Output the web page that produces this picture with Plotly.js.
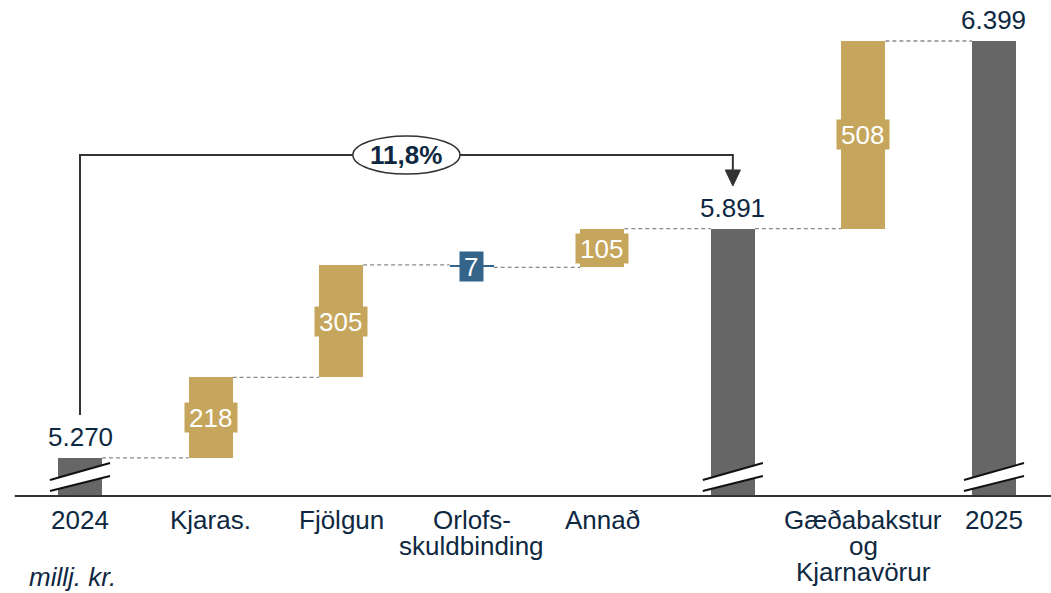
<!DOCTYPE html>
<html>
<head>
<meta charset="utf-8">
<script src="https://cdn.plot.ly/plotly-3.0.1.min.js"></script>
<style>html,body{margin:0;padding:0;background:#fff;}#chart{width:1051px;height:593px;}</style>
</head>
<body>
<div id="chart"></div>
<script>
// ---- data ----
const categories = ['2024', 'Kjaras.', 'Fjölgun', 'Orlofs-<br>skuldbinding', 'Annað', '', 'Gæðabakstur<br>og<br>Kjarnavörur', '2025'];
const measures = ['total', 'relative', 'relative', 'relative', 'relative', 'total', 'relative', 'total'];
const values = [5270, 218, 305, -7, 105, 5891, 508, 6399];
const changeLabel = '11,8%';
const unitLabel = 'millj. kr.';

// ---- style ----
const FONT = 'Liberation Sans, Arial, sans-serif';
const NAVY = '#0E2841';
const GRAY = '#666666';
const GOLD = '#C5A65C';
const BLUE = '#35648A';
const BAR_W = 0.337;
const Y_FLOOR = 5167, Y_TOP = 6510;

function fmt(v) { return String(v).replace(/\B(?=(\d{3})+(?!\d))/g, '.'); }

const xs = [], heights = [], bases = [], colors = [], ends = [];
let cum = 0;
values.forEach((v, i) => {
  xs.push(i);
  if (measures[i] === 'total') {
    bases.push(Y_FLOOR); heights.push(v - Y_FLOOR); colors.push(GRAY); cum = v;
  } else {
    bases.push(cum); heights.push(v); colors.push(v >= 0 ? GOLD : BLUE); cum += v;
  }
  ends.push(cum);
});

const trace = {
  type: 'bar', x: xs, y: heights, base: bases, width: BAR_W,
  marker: { color: colors, line: { width: 0 } },
  hoverinfo: 'none', showlegend: false
};

const shapes = [];
const annotations = [];

// connectors
for (let i = 0; i < values.length - 1; i++) {
  shapes.push({ type: 'line', xref: 'x', yref: 'y', x0: i + BAR_W / 2, x1: i + 1 - BAR_W / 2, y0: ends[i], y1: ends[i],
    line: { color: '#8A8A8A', width: 1.3, dash: '4px,3px' }, layer: 'below' });
}

// axis line
shapes.push({ type: 'line', xref: 'x', yref: 'paper', x0: -0.5, x1: 7.6, y0: 0, y1: 0, line: { color: '#333333', width: 2.2 } });

// break marks on total bars
measures.forEach((m, i) => {
  if (m !== 'total') return;
  const dx = 0.23;
  shapes.push({ type: 'path', xref: 'x', yref: 'paper',
    path: `M ${i - dx},0.0101 L ${i + dx},0.0403 L ${i + dx},0.0665 L ${i - dx},0.0323 Z`,
    fillcolor: '#ffffff', line: { width: 0 } });
  shapes.push({ type: 'line', xref: 'x', yref: 'paper', x0: i - dx, x1: i + dx, y0: 0.0101, y1: 0.0403, line: { color: '#111', width: 2 } });
  shapes.push({ type: 'line', xref: 'x', yref: 'paper', x0: i - dx, x1: i + dx, y0: 0.0323, y1: 0.0665, line: { color: '#111', width: 2 } });
});

// growth arrow from first total to subtotal
const iFrom = 0, iTo = 5;
shapes.push({ type: 'path', xref: 'x', yref: 'paper',
  path: `M ${iFrom},0.1633 L ${iFrom},0.6875 L ${iTo},0.6875 L ${iTo},0.6573`,
  line: { color: '#333333', width: 2 } });
shapes.push({ type: 'path', xref: 'x', yref: 'paper',
  path: `M ${iTo - 0.058},0.6573 L ${iTo + 0.058},0.6573 L ${iTo},0.625 Z`,
  fillcolor: '#333333', line: { color: '#333333', width: 1 } });
shapes.push({ type: 'circle', xref: 'x', yref: 'paper', x0: 2.09, x1: 2.91, y0: 0.6492, y1: 0.7258,
  fillcolor: '#ffffff', line: { color: '#333333', width: 1.5 } });
annotations.push({ x: 2.5, y: 0.6875, xref: 'x', yref: 'paper', text: '<b>' + changeLabel + '</b>', showarrow: false,
  font: { family: FONT, size: 26, color: NAVY }, xanchor: 'center', yanchor: 'middle' });

// value labels
values.forEach((v, i) => {
  if (measures[i] === 'total') {
    annotations.push({ x: i, y: v, xref: 'x', yref: 'y', text: fmt(v), showarrow: false, yanchor: 'middle', yshift: 21,
      font: { family: FONT, size: 26, color: NAVY } });
  } else {
    const txt = fmt(Math.abs(v));
    annotations.push({ x: i, y: bases[i] + v / 2, xref: 'x', yref: 'y', text: txt, showarrow: false,
      yanchor: 'middle', bgcolor: colors[i], borderpad: 0, width: txt.length * 14.5 + 8, height: 29,
      font: { family: FONT, size: 26, color: '#ffffff' } });
  }
});

// category labels (one annotation per line)
categories.forEach((c, i) => {
  if (!c) return;
  c.split('<br>').forEach((line, k) => {
    annotations.push({ x: i, y: 0, xref: 'x', yref: 'paper', text: line, showarrow: false,
      xanchor: 'center', yanchor: 'middle', yshift: -23.5 - 26 * k,
      font: { family: FONT, size: 26, color: NAVY } });
  });
});
annotations.push({ x: -0.054, y: 0, xref: 'x', yref: 'paper', text: '<i>' + unitLabel + '</i>', showarrow: false,
  xanchor: 'center', yanchor: 'middle', yshift: -81, font: { family: FONT, size: 26, color: NAVY } });

const layout = {
  width: 1051, height: 593,
  margin: { l: 0, r: 0, t: 0, b: 97, pad: 0 },
  paper_bgcolor: '#ffffff', plot_bgcolor: '#ffffff',
  xaxis: { range: [-0.6127, 7.4366], showticklabels: false, showgrid: false, zeroline: false, showline: false, fixedrange: true },
  yaxis: { range: [Y_FLOOR, Y_TOP], visible: false, showgrid: false, zeroline: false, fixedrange: true },
  shapes: shapes, annotations: annotations, showlegend: false, bargap: 0
};

Plotly.newPlot('chart', [trace], layout, { displayModeBar: false, staticPlot: true });
</script>
</body>
</html>
